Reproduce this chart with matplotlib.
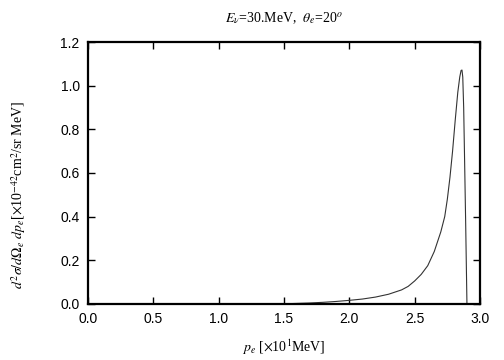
import matplotlib
matplotlib.use("Agg")
import matplotlib.pyplot as plt

plt.rcParams['mathtext.fontset'] = 'stix'
plt.rcParams['font.serif'] = ['Liberation Serif', 'DejaVu Serif']

# momentum p_e [x10 MeV] and cross section [x10^-42 cm^2/sr MeV]
p_e = [1.5, 1.6, 1.7, 1.8, 1.9, 2.0, 2.1, 2.2, 2.3, 2.4, 2.45, 2.5, 2.55,
       2.6, 2.65, 2.7, 2.73, 2.75, 2.77, 2.79, 2.81, 2.83, 2.845, 2.855,
       2.862, 2.868, 2.875, 2.882, 2.89, 2.90]
xsec = [0.0, 0.002, 0.004, 0.007, 0.011, 0.016, 0.022, 0.031, 0.044, 0.064,
        0.08, 0.105, 0.135, 0.175, 0.24, 0.33, 0.40, 0.48, 0.58, 0.70, 0.84,
        0.97, 1.04, 1.07, 1.072, 1.04, 0.90, 0.66, 0.38, 0.0]

xticks = [0.0, 0.5, 1.0, 1.5, 2.0, 2.5, 3.0]
yticks = [0.0, 0.2, 0.4, 0.6, 0.8, 1.0, 1.2]

fig = plt.figure(figsize=(5.04, 3.6), dpi=100)
ax = fig.add_axes([0.1746, 0.156, 0.7778, 0.727])

ax.plot(p_e, xsec, color='#333333', lw=0.8)

ax.set_xlim(0, 3.0)
ax.set_ylim(0, 1.2)
ax.set_xticks(xticks)
ax.set_yticks(yticks)
ax.set_xticklabels(['%.1f' % t for t in xticks])
ax.set_yticklabels(['%.1f' % t for t in yticks])
ax.tick_params(direction='in', top=True, right=True, length=5, width=1,
               labelsize=10, pad=6)
for lab in ax.get_xticklabels() + ax.get_yticklabels():
    lab.set_family('Liberation Sans')
for s in ax.spines.values():
    s.set_linewidth(1.6)

tfont = dict(family='serif', fontsize=10)
fig.text(0.5635, 0.95, r'$E_\nu$=30.MeV,  $\theta_e$=20$^o$', ha='center',
         va='center', **tfont)
fig.text(0.5635, 0.035, r'$p_e$ [$\times$10$^1$MeV]', ha='center',
         va='center', **tfont)
fig.text(0.037, 0.458,
         r'$d^2\sigma/d\Omega_e\ dp_e$[$\times$10$^{-42}$cm$^2$/sr MeV]',
         ha='center', va='center', rotation=90, **tfont)

fig.savefig('out.png', dpi=100)
